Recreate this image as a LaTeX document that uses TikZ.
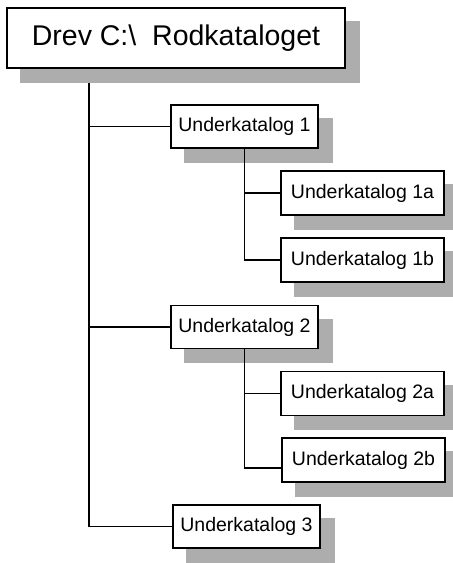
\documentclass[tikz,border=0pt]{standalone}
\usepackage{fontspec}
\setmainfont{Liberation Sans}
\pgfdeclarelayer{shadowlayer}
\pgfdeclarelayer{linelayer}
\pgfsetlayers{shadowlayer,linelayer,main}
\tikzset{
  dirbox/.style={draw=black, line width=1.8pt, fill=white, inner sep=0pt,
    font=\fontsize{19.5}{22}\selectfont},
  subbox/.style={dirbox, minimum width=147pt, minimum height=43pt},
  leafbox/.style={dirbox, minimum width=163pt, minimum height=44pt},
  rootbox/.style={dirbox, minimum width=338pt, minimum height=60pt,
    font=\fontsize{28.5}{32}\selectfont},
  branch/.style={draw=black, line width=1.7pt},
  shade/.style={fill=black!32}
}
\begin{document}
\begin{tikzpicture}[x=1pt, y=-1pt]
  \useasboundingbox (0,0) rectangle (453,563);

  % directory boxes
  \node[rootbox] (root) at (176,38) {Drev C:\textbackslash\ \ Rodkataloget};
  \node[subbox]  (uk1)  at (244.5,126.5) {Underkatalog 1};
  \node[leafbox] (uk1a) at (362.5,193)   {Underkatalog 1a};
  \node[leafbox] (uk1b) at (362.5,260)   {Underkatalog 1b};
  \node[subbox]  (uk2)  at (244.5,327)   {Underkatalog 2};
  \node[leafbox] (uk2a) at (362.5,393.5) {Underkatalog 2a};
  \node[leafbox] (uk2b) at (363.5,460)   {Underkatalog 2b};
  \node[subbox]  (uk3)  at (246.5,526.5) {Underkatalog 3};

  % drop shadows behind every box
  \begin{pgfonlayer}{shadowlayer}
    \foreach \n in {root,uk1,uk1a,uk1b,uk2,uk2a,uk2b,uk3}
      \fill[shade] ([shift={(14,14)}]\n.north west) rectangle ([shift={(14,14)}]\n.south east);
  \end{pgfonlayer}

  % tree connectors
  \begin{pgfonlayer}{linelayer}
    \coordinate (trunk) at ([shift={(83,14)}]root.south west);
    \draw[branch] (trunk) |- (uk3.west);
    \draw[branch] (trunk |- uk1.west) -- (uk1.west);
    \draw[branch] (trunk |- uk2.west) -- (uk2.west);
    \draw[branch] (uk1.south) |- (uk1b.west);
    \draw[branch] (uk1.south |- uk1a.west) -- (uk1a.west);
    \draw[branch] (uk2.south) |- ([yshift=-8pt]uk2b.west);
    \draw[branch] (uk2.south |- uk2a.west) -- (uk2a.west);
  \end{pgfonlayer}
\end{tikzpicture}
\end{document}
